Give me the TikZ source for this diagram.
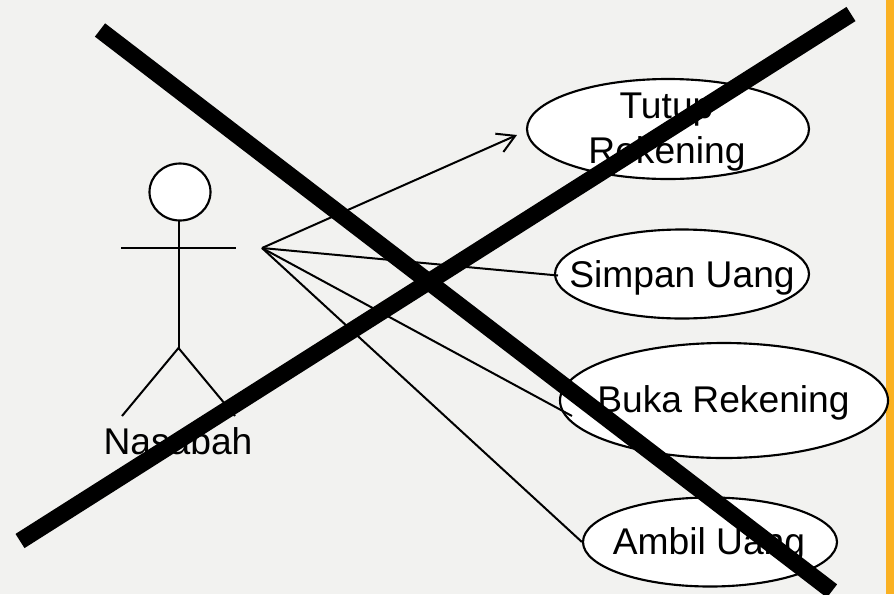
\documentclass[tikz,border=0pt]{standalone}
\usepackage{fontspec}
\setmainfont{Liberation Sans}
\usetikzlibrary{shapes.geometric,arrows.meta}
\definecolor{bgc}{HTML}{F2F2F0}
\definecolor{barc}{HTML}{FAB123}
\tikzset{
  uc/.style={draw=black,fill=white,ellipse,inner sep=0pt,line width=1.6pt},
  lab/.style={inner sep=0pt,anchor=base,font=\fontsize{27.9}{33.75}\selectfont,text=black},
  thin line/.style={draw=black,line width=1.5pt},
  cross/.style={draw=black,line width=12.6pt},
}
\begin{document}
\begin{tikzpicture}[x=0.75pt,y=-0.75pt]
\useasboundingbox (0,0) rectangle (894,594);
\fill[bgc] (0,0) rectangle (894,594);
\fill[barc] (886,0) rectangle (894,594);
% use cases
\node[uc,minimum width=282*0.75pt,minimum height=100*0.75pt] (tutup) at (668,129) {};
\node[uc,minimum width=254*0.75pt,minimum height=89*0.75pt] (simpan) at (682,274) {};
\node[uc,minimum width=328*0.75pt,minimum height=115*0.75pt] (buka) at (724,400.5) {};
\node[uc,minimum width=254*0.75pt,minimum height=89*0.75pt] (ambil) at (710,542) {};
% actor
\node[uc,minimum width=61*0.75pt,minimum height=57*0.75pt] (head) at (180,192) {};
\coordinate (neck) at (178.5,220.5);
\coordinate (hip) at (178.5,348);
\coordinate (armL) at (121,248);
\coordinate (armR) at (236,248);
\coordinate (legL) at (122,416);
\coordinate (legR) at (235,416);
\draw[thin line] (neck) -- (hip);
\draw[thin line] (armL) -- (armR);
\draw[thin line,line join=round] (legL) -- (hip) -- (legR);
% labels
\node[lab] (tutupa) at (666.5,118) {Tutup};
\node[lab] (tutupb) at (667,163.5) {Rekening};
\node[lab] (simpant) at (682,287) {Simpan Uang};
\node[lab] (bukat) at (723.5,412.5) {Buka Rekening};
\node[lab] (ambilt) at (709,554.5) {Ambil Uang};
\node[lab] (nasabah) at (178,454) {Nasabah};
% connectors
\coordinate (apex) at (262,248);
\coordinate (tiptutup) at (517,135);
\coordinate (endbuka) at (572,416);
\coordinate (endsimpan) at (558,275.5);
\draw[thin line,-{Straight Barb[length=13pt,width=13pt,angle=60:15pt]}] (apex) -- (tiptutup);
\draw[thin line] (apex) -- (endsimpan);
\draw[thin line] (apex) -- (endbuka);
\draw[thin line] (apex) -- (ambil.west);
% cross
\coordinate (c1a) at (100,30);
\coordinate (c1b) at (832,591);
\coordinate (c2a) at (20,541);
\coordinate (c2b) at (851,14);
\draw[cross] (c1a) -- (c1b);
\draw[cross] (c2a) -- (c2b);
\end{tikzpicture}
\end{document}
